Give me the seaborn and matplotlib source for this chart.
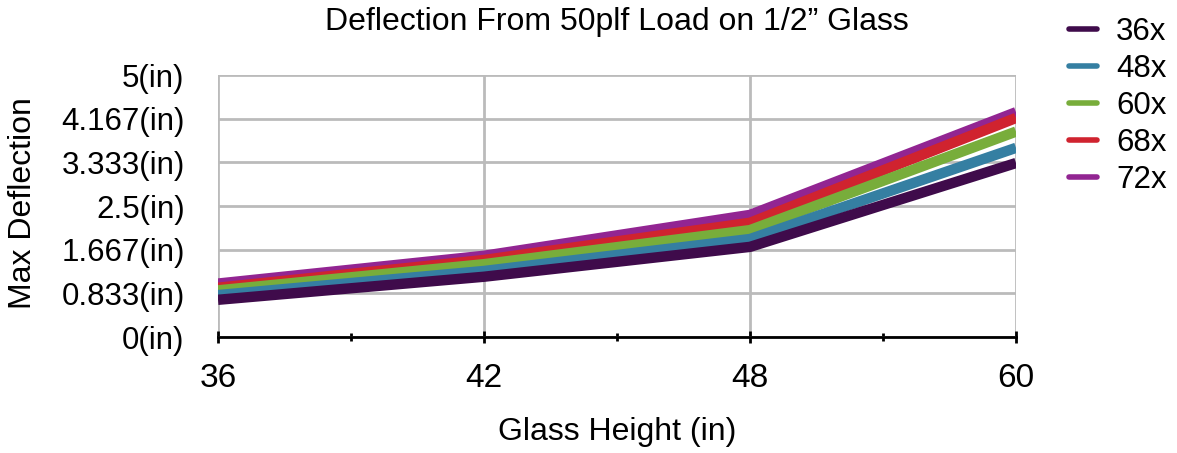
import matplotlib
matplotlib.use("Agg")
import matplotlib.pyplot as plt
import seaborn as sns
import pandas as pd
from matplotlib.ticker import FixedLocator

# glass heights (x categories) and max deflection per glass width
heights = ["36", "42", "48", "60"]
widths = ["36x", "48x", "60x", "68x", "72x"]
defl_36x = [0.71, 1.15, 1.72, 3.32]
defl_48x = [0.80, 1.26, 1.87, 3.61]
defl_60x = [0.89, 1.39, 2.04, 3.92]
defl_68x = [0.94, 1.47, 2.18, 4.18]
defl_72x = [1.02, 1.55, 2.33, 4.29]
y_ticks = [0, 0.833, 1.667, 2.5, 3.333, 4.167, 5]
y_labels = ["0(in)", "0.833(in)", "1.667(in)", "2.5(in)", "3.333(in)", "4.167(in)", "5(in)"]

colors = ["#3f0b4b", "#357fa2", "#78ad3b", "#d0232f", "#922592"]

rows = []
for w, vals in zip(widths, [defl_36x, defl_48x, defl_60x, defl_68x, defl_72x]):
    for h, v in zip(heights, vals):
        rows.append({"height": h, "width": w, "deflection": v})
df = pd.DataFrame(rows)
df["pos"] = df["height"].map({h: i for i, h in enumerate(heights)})

sns.set_style("white")
plt.rcParams["font.family"] = ["Liberation Sans", "DejaVu Sans"]
plt.rcParams["text.color"] = "black"
plt.rcParams["xtick.color"] = "black"
plt.rcParams["ytick.color"] = "black"

fig = plt.figure(figsize=(11.77, 4.53), dpi=100)
ax = fig.add_axes([218 / 1177, 1 - 337 / 453, (1016 - 218) / 1177, (337 - 75) / 453])

sns.lineplot(data=df, x="pos", y="deflection", hue="width", hue_order=widths,
             palette=colors, linewidth=7.5, ax=ax, legend=False)

# lower series sit on top
for i, line in enumerate(ax.get_lines()):
    line.set_zorder(10 - i)
    line.set_solid_capstyle("butt")
    line.set_solid_joinstyle("round")

ax.set_xlim(0, 3)
ax.set_ylim(0, 5)
ax.set_xticks(range(len(heights)))
ax.set_xticklabels(heights, fontsize=24)
ax.xaxis.set_minor_locator(FixedLocator([0.5, 1.5, 2.5]))
ax.set_yticks(y_ticks)
ax.set_yticklabels(y_labels, fontsize=22.5)
ax.tick_params(axis="x", which="both", bottom=True, color="black", width=2, direction="inout")
ax.tick_params(axis="x", which="major", length=9, pad=14)
ax.tick_params(axis="x", which="minor", length=6)
ax.tick_params(axis="y", length=0, pad=24)
ax.grid(True, which="major", color="#bbbbbb", linewidth=2)
ax.set_axisbelow(True)
for s in ["left", "top", "right"]:
    ax.spines[s].set_visible(False)
ax.spines["bottom"].set_color("black")
ax.spines["bottom"].set_linewidth(2)
ax.spines["bottom"].set_zorder(20)
ax.set_xlabel("")
ax.set_ylabel("")

fig.text(617 / 1177, 1 - 22 / 453, "Deflection From 50plf Load on 1/2\u201d Glass",
         fontsize=23, ha="center", va="center")
fig.text(617 / 1177, 1 - 432 / 453, "Glass Height (in)", fontsize=23, ha="center", va="center")
fig.text(23 / 1177, 1 - 203 / 453, "Max Deflection", fontsize=23, rotation=90,
         ha="center", va="center")

handles = [plt.Line2D([], [], color=c, linewidth=4) for c in colors]
fig.legend(handles, widths, loc="upper left", bbox_to_anchor=(1069 / 1177, 1 - 17 / 453),
           frameon=False, fontsize=22.5, handlelength=0.9, handletextpad=0.6,
           labelspacing=0.22, borderpad=0, borderaxespad=0)

fig.savefig("out.png", dpi=100)
